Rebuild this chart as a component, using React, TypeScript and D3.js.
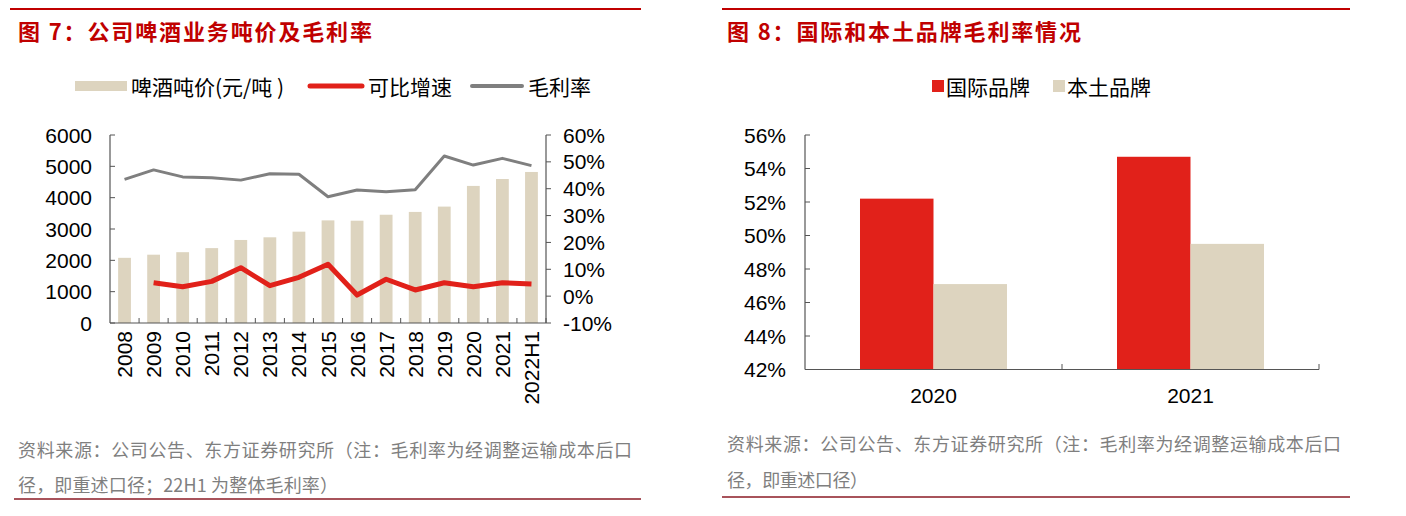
import React from 'react';
import * as d3 from 'd3';

// 图7 data
const years = ['2008', '2009', '2010', '2011', '2012', '2013', '2014', '2015', '2016', '2017', '2018', '2019', '2020', '2021', '2022H1'];
const beerPrice = [2080, 2180, 2260, 2390, 2650, 2735, 2915, 3275, 3265, 3455, 3545, 3715, 4375, 4595, 4820];
const growth: (number | null)[] = [null, 5.0, 3.5, 5.5, 10.6, 3.9, 7.0, 11.9, 0.4, 6.3, 2.3, 5.0, 3.5, 5.0, 4.5];
const grossMargin = [43.5, 47.0, 44.4, 44.1, 43.2, 45.6, 45.4, 37.0, 39.5, 38.9, 39.6, 52.2, 48.8, 51.3, 48.6];
const leftTicks = [0, 1000, 2000, 3000, 4000, 5000, 6000];
const rightTicks = [-10, 0, 10, 20, 30, 40, 50, 60];

// 图8 data
const brandYears = ['2020', '2021'];
const brands = ['国际品牌', '本土品牌'];
const intlMargin = [52.2, 54.7];
const localMargin = [47.1, 49.5];
const marginTicks = [42, 44, 46, 48, 50, 52, 54, 56];

const RED = '#E1211A';
const BEIGE = '#DDD4BF';
const GRAY = '#7F7F7F';
const TITLE_RED = '#C00000';
const NUM = '"Liberation Sans", Arial, sans-serif';
const CJK = '"Noto Sans CJK SC", "Noto Sans", sans-serif';

const LeftChart: React.FC = () => {
  const x = d3.scaleBand<string>().domain(years).range([110, 546]).paddingInner(0.56).paddingOuter(0.28);
  const y = d3.scaleLinear().domain([0, 6000]).range([323, 135]);
  const y2 = d3.scaleLinear().domain([-10, 60]).range([323, 135]);
  const cx = (d: string) => (x(d) || 0) + x.bandwidth() / 2;

  const marginLine = d3.line<number>()
    .x((_, i) => cx(years[i]))
    .y(d => y2(d));
  const growthLine = d3.line<number | null>()
    .defined(d => d != null)
    .x((_, i) => cx(years[i]))
    .y(d => y2(d as number));

  const step = x.step();
  const x0 = x.range()[0];

  return (
    <g>
      <line x1={10} x2={641} y1={9} y2={9} stroke={TITLE_RED} strokeWidth={2} />
      <text x={18} y={30} dominantBaseline="central" fontFamily={CJK} fontWeight="bold" fontSize={22}
        fill={TITLE_RED} textLength={354}>图 7：公司啤酒业务吨价及毛利率</text>

      {/* legend */}
      <rect x={75} y={81} width={52} height={10} fill={BEIGE} />
      <text x={131} y={86} dominantBaseline="central" fontFamily={CJK} fontSize={21} fill="#000">啤酒吨价(元/吨 )</text>
      <line x1={310} x2={362} y1={86} y2={86} stroke={RED} strokeWidth={5} strokeLinecap="round" />
      <text x={368} y={86} dominantBaseline="central" fontFamily={CJK} fontSize={21} fill="#000">可比增速</text>
      <line x1={472} x2={522} y1={86} y2={86} stroke={GRAY} strokeWidth={4} strokeLinecap="round" />
      <text x={528} y={86} dominantBaseline="central" fontFamily={CJK} fontSize={21} fill="#000">毛利率</text>

      {/* bars */}
      {beerPrice.map((v, i) => (
        <rect key={years[i]} x={x(years[i])} y={y(v)} width={x.bandwidth()} height={y(0) - y(v)} fill={BEIGE} />
      ))}

      {/* lines */}
      <path d={marginLine(grossMargin) || ''} fill="none" stroke={GRAY} strokeWidth={3} strokeLinejoin="round" />
      <path d={growthLine(growth) || ''} fill="none" stroke={RED} strokeWidth={5} strokeLinejoin="round" />

      {/* axes */}
      <line x1={110} x2={110} y1={135} y2={323} stroke="#555" strokeWidth={1.2} />
      <line x1={546} x2={546} y1={135} y2={323} stroke="#555" strokeWidth={1.2} />
      <line x1={110} x2={546} y1={323} y2={323} stroke="#555" strokeWidth={1.2} />
      {leftTicks.map(t => (
        <g key={t}>
          <line x1={110} x2={115} y1={y(t)} y2={y(t)} stroke="#555" />
          <text x={92} y={y(t)} textAnchor="end" dominantBaseline="central" fontFamily={NUM} fontSize={21} fill="#000">{t}</text>
        </g>
      ))}
      {rightTicks.map(t => (
        <g key={t}>
          <line x1={546} x2={551} y1={y2(t)} y2={y2(t)} stroke="#555" />
          <text x={563} y={y2(t)} dominantBaseline="central" fontFamily={NUM} fontSize={21} fill="#000">{t}%</text>
        </g>
      ))}
      {years.map((_, i) => (
        <line key={i} x1={x0 + (i + 1) * step} x2={x0 + (i + 1) * step} y1={323} y2={318} stroke="#555" />
      ))}
      {years.map(d => (
        <text key={d} transform={`translate(${cx(d)},331) rotate(-90)`} textAnchor="end" dominantBaseline="central"
          fontFamily={NUM} fontSize={21} fill="#000">{d}</text>
      ))}

      {/* source */}
      <text x={18} y={449} dominantBaseline="central" fontFamily={CJK} fontSize={18} fill={GRAY} textLength={614}>资料来源：公司公告、东方证券研究所（注：毛利率为经调整运输成本后口</text>
      <text x={18} y={484} dominantBaseline="central" fontFamily={CJK} fontSize={18} fill={GRAY} textLength={320}>径，即重述口径；22H1 为整体毛利率）</text>
      <line x1={14} x2={641} y1={499} y2={499} stroke="#8B1A24" strokeWidth={1.5} />
    </g>
  );
};

const RightChart: React.FC = () => {
  const x = d3.scaleBand<string>().domain(brandYears).range([805, 1319]).paddingInner(0.428).paddingOuter(0.214);
  const xb = d3.scaleBand<string>().domain(brands).range([0, x.bandwidth()]);
  const y = d3.scaleLinear().domain([42, 56]).range([369.5, 135]);
  const series = [intlMargin, localMargin];
  const colors = [RED, BEIGE];
  const step = x.step();

  return (
    <g>
      <line x1={722} x2={1350} y1={9} y2={9} stroke={TITLE_RED} strokeWidth={2} />
      <text x={727} y={30} dominantBaseline="central" fontFamily={CJK} fontWeight="bold" fontSize={22}
        fill={TITLE_RED} textLength={354}>图 8：国际和本土品牌毛利率情况</text>

      {/* legend */}
      <rect x={932} y={80} width={12} height={12} fill={RED} />
      <text x={946} y={86} dominantBaseline="central" fontFamily={CJK} fontSize={21} fill="#000">{brands[0]}</text>
      <rect x={1053} y={80} width={12} height={12} fill={BEIGE} />
      <text x={1067} y={86} dominantBaseline="central" fontFamily={CJK} fontSize={21} fill="#000">{brands[1]}</text>

      {brandYears.map((yr, i) => (
        <g key={yr}>
          {series.map((s, j) => (
            <rect key={j} x={(x(yr) || 0) + (xb(brands[j]) || 0)} y={y(s[i])} width={xb.bandwidth()}
              height={y(42) - y(s[i])} fill={colors[j]} />
          ))}
          <text x={(x(yr) || 0) + x.bandwidth() / 2} y={395} textAnchor="middle" dominantBaseline="central"
            fontFamily={NUM} fontSize={21} fill="#000">{yr}</text>
        </g>
      ))}

      <line x1={805} x2={805} y1={135} y2={369.5} stroke="#555" strokeWidth={1.2} />
      <line x1={805} x2={1319} y1={369.5} y2={369.5} stroke="#555" strokeWidth={1.2} />
      {marginTicks.map(t => (
        <g key={t}>
          <line x1={805} x2={810} y1={y(t)} y2={y(t)} stroke="#555" />
          <text x={786} y={y(t)} textAnchor="end" dominantBaseline="central" fontFamily={NUM} fontSize={21} fill="#000">{t}%</text>
        </g>
      ))}
      {brandYears.map((_, i) => (
        <line key={i} x1={805 + (i + 1) * step} x2={805 + (i + 1) * step} y1={369.5} y2={364} stroke="#555" />
      ))}

      <text x={727} y={443} dominantBaseline="central" fontFamily={CJK} fontSize={18} fill={GRAY} textLength={614}>资料来源：公司公告、东方证券研究所（注：毛利率为经调整运输成本后口</text>
      <text x={727} y={479} dominantBaseline="central" fontFamily={CJK} fontSize={18} fill={GRAY} textLength={141}>径，即重述口径）</text>
      <line x1={722} x2={1350} y1={497} y2={497} stroke="#8B1A24" strokeWidth={1.5} />
    </g>
  );
};

const App: React.FC = () => (
  <svg width={1406} height={516} style={{ position: 'absolute', left: 0, top: 0, background: '#fff' }}>
    <LeftChart />
    <RightChart />
  </svg>
);

export default App;
